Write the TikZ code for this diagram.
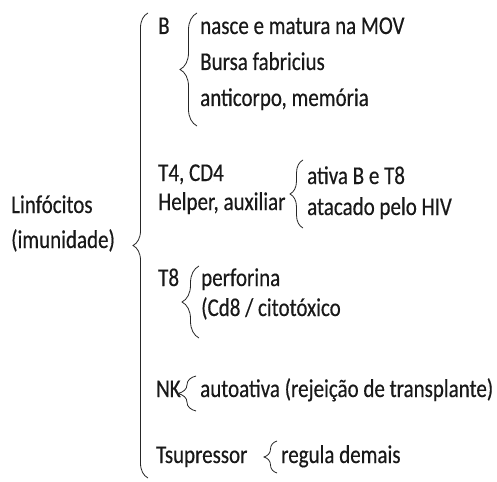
\documentclass[tikz,border=0pt]{standalone}
\usepackage{fontspec}
\setmainfont{Carlito}[FakeStretch=0.82, FakeBold=0.4]
\usetikzlibrary{decorations.pathreplacing}

\begin{document}
\begin{tikzpicture}[x=1pt, y=-1pt, thin,
	lbl/.style={anchor=base west, inner sep=0pt, text=black!90, font=\fontsize{25.6}{30}\selectfont},
	brc/.style={decorate, line width=0.8pt, draw=black!85, decoration={brace, amplitude=#1}}]
	
	\useasboundingbox (0,0) rectangle (497,481);
	\fill[white] (0,0) rectangle (497,481);
	
	% Root
	\node[lbl] (lin) at (11,213) {Linfócitos};
	\node[lbl] (imu) at (11,248) {(imunidade)};
	\coordinate (bigTop) at (148,13);
	\coordinate (bigBot) at (148,478);
	\draw[brc=15pt] (bigBot) -- (bigTop);
	
	% B
	\node[lbl] (b) at (158,34) {B};
	\node[lbl] (bNasce) at (200,34) {nasce e matura na MOV};
	\node[lbl] (bBursa) at (200,70) {Bursa fabricius};
	\node[lbl] (bAnti) at (200,106) {anticorpo, memória};
	\coordinate (bTop) at (197,13);
	\coordinate (bBot) at (197,126);
	\draw[brc=17pt] (bBot) -- (bTop);
	
	% T4
	\node[lbl] (t4) at (158,181) {T4, CD4};
	\node[lbl] (t4Help) at (158,210) {Helper, auxiliar};
	\node[lbl] (t4Ativa) at (307,184) {ativa B e T8};
	\node[lbl] (t4Hiv) at (307,215) {atacado pelo HIV};
	\coordinate (t4Top) at (303,160);
	\coordinate (t4Bot) at (303,228);
	\draw[brc=13pt] (t4Bot) -- (t4Top);
	
	% T8
	\node[lbl] (t8) at (158,286) {T8};
	\node[lbl] (t8Perf) at (201,286) {perforina};
	\node[lbl] (t8Cd8) at (201,316) {(Cd8 / citotóxico};
	\coordinate (t8Top) at (199,266);
	\coordinate (t8Bot) at (199,338);
	\draw[brc=17pt] (t8Bot) -- (t8Top);
	
	% NK
	\node[lbl] (nk) at (156,397) {NK};
	\node[lbl] (nkAuto) at (200,397) {autoativa (rejeição de transplante)};
	\coordinate (nkTop) at (196,376);
	\coordinate (nkBot) at (196,411);
	\draw[brc=18pt] (nkBot) -- (nkTop);
	
	% Tsupressor
	\node[lbl] (ts) at (156,463) {Tsupressor};
	\node[lbl] (tsReg) at (281,463) {regula demais};
	\coordinate (tsTop) at (277,441);
	\coordinate (tsBot) at (277,473);
	\draw[brc=13pt] (tsBot) -- (tsTop);
	
\end{tikzpicture}
\end{document}
